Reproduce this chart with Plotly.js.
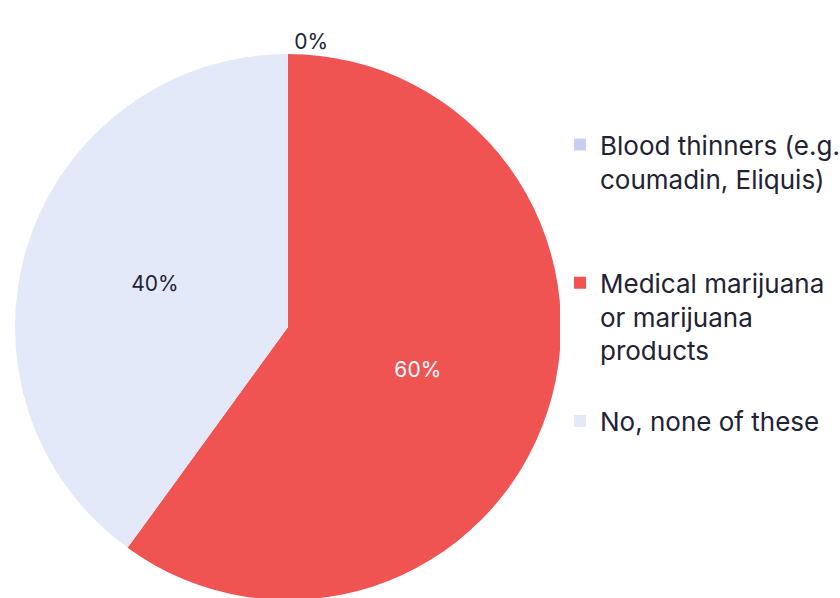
<!DOCTYPE html>
<html>
<head>
<meta charset="utf-8">
<script src="https://cdn.plot.ly/plotly-3.0.1.min.js"></script>
<style>html,body{margin:0;padding:0;background:#fff;overflow:hidden;}#chart{width:880px;height:610px;}</style>
</head>
<body>
<div id="chart"></div>
<script>
const categories = ["Blood thinners (e.g.<br>coumadin, Eliquis)<br> <br> ", "Medical marijuana<br>or marijuana<br>products<br> ", "No, none of these"];
const values = [0, 60, 40];
const colors = ["#C8CFF1", "#F05452", "#E4E9FA"];
const textColors = ["#222233", "#FFFFFF", "#222233"];
const textPositions = ["outside", "inside", "inside"];

const W = 880, ML = 15;
const PW = W - ML;

const data = [{
  type: "pie",
  labels: categories,
  values: values,
  sort: false,
  direction: "clockwise",
  rotation: 0,
  marker: {colors: colors, line: {width: 0}},
  textinfo: "percent",
  texttemplate: "%{percent:.0%}",
  textposition: textPositions,
  insidetextorientation: "horizontal",
  textfont: {family: "Inter, 'Open Sans', sans-serif", size: 21, color: textColors},
  domain: {x: [0, 546/PW], y: [0, 1]},
  hoverinfo: "none"
}];

const layout = {
  width: W,
  height: 610,
  margin: {l: ML, r: 0, t: 54, b: 10},
  paper_bgcolor: "#FFFFFF",
  showlegend: true,
  legend: {
    x: (560 - ML)/PW, y: 0.877, xanchor: "left", yanchor: "top",
    font: {family: "Inter, 'Open Sans', sans-serif", size: 26, color: "#222233"},
    valign: "top",
    itemwidth: 30,
    tracegroupgap: 0
  },
  font: {family: "Inter, 'Open Sans', sans-serif"}
};

Plotly.newPlot("chart", data, layout, {displayModeBar: false, staticPlot: true});
</script>
</body>
</html>
